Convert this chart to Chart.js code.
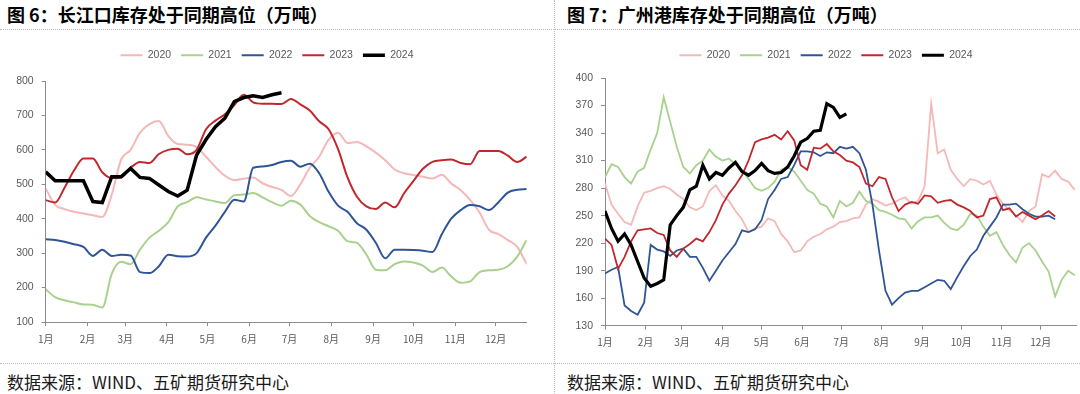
<!DOCTYPE html>
<html>
<head>
<meta charset="utf-8">
<script src="https://cdn.jsdelivr.net/npm/chart.js@4.4.1/dist/chart.umd.min.js"></script>
<style>
  html, body { margin: 0; padding: 0; background: #fff; }
  body { width: 1080px; height: 394px; position: relative; overflow: hidden;
         font-family: "Noto Sans CJK SC", sans-serif; }
  .title { position: absolute; top: 1px; font-size: 18px; font-weight: bold; color: #000; white-space: nowrap; }
  .foot { position: absolute; top: 369px; font-size: 17px; color: #1a1a1a; white-space: nowrap; }
  .hline { position: absolute; left: 0; width: 1080px; height: 0; border-top: 1px dotted #bdbdbd; }
  .vline { position: absolute; top: 0; width: 0; height: 394px; border-left: 1px dotted #bdbdbd; }
  canvas { position: absolute; }
</style>
</head>
<body>
<div class="title" style="left:7px">图 6：长江口库存处于同期高位（万吨）</div>
<div class="title" style="left:567px">图 7：广州港库存处于同期高位（万吨）</div>
<div class="hline" style="top:29px"></div>
<div class="hline" style="top:363px"></div>
<div class="vline" style="left:554px"></div>
<div class="foot" style="left:7px">数据来源：WIND、五矿期货研究中心</div>
<div class="foot" style="left:567px">数据来源：WIND、五矿期货研究中心</div>

<canvas id="left" width="540" height="320" style="left:0px;top:36px"></canvas>
<canvas id="right" width="530" height="320" style="left:550px;top:36px"></canvas>

<script>
"use strict";

// month starts (day of year) and their labels
var monthDays = [0, 31, 59, 90, 120, 151, 181, 212, 243, 273, 304, 334];
var monthLabels = ['1月', '2月', '3月', '4月', '5月', '6月', '7月', '8月', '9月', '10月', '11月', '12月'];
var years = ['2020', '2021', '2022', '2023', '2024'];

// 长江口 - weekly readings (every 7 days from 1 Jan)
var cj2020 = [488,440,428,420,415,410,405,470,572,600,650,675,684,640,617,615,608,580,550,525,512,516,520,503,492,484,466,500,548,580,630,650,620,623,610,592,570,543,532,527,522,517,528,502,483,455,418,368,355,338,318,268];
var cj2021 = [195,172,163,157,151,150,142,240,275,268,310,345,365,390,436,448,462,456,450,446,468,470,475,462,448,438,452,441,408,390,378,365,335,330,296,252,250,268,276,273,264,245,258,232,214,218,245,250,252,262,290,338];
var cj2022 = [340,338,333,326,318,292,310,292,295,293,245,242,262,295,291,290,300,345,380,420,455,450,548,552,556,565,568,551,560,532,478,438,420,387,368,330,285,310,310,309,307,303,355,400,425,440,436,425,448,476,484,486];
var cj2023 = [454,447,490,540,575,575,535,518,520,548,565,562,588,600,603,587,600,660,685,703,730,760,738,734,734,733,748,732,714,683,660,602,520,464,436,428,447,433,474,510,545,565,570,572,562,558,597,597,597,583,565,580];
var cj2024 = [536,510,510,510,510,450,447,522,522,546,520,517,498,479,466,483,585,630,667,692,740,752,757,752,760,766];

// 广州港 - readings every 5 days from 1 Jan
var gz2020 = [285,262,252,243,240,260,275,277,280,282,279,273,268,259,256,
              260,277,283,272,266,255,246,232,236,238,247,244,230,222,210,
              212,222,227,230,235,238,243,244,247,248,262,268,265,261,
              263,267,270,263,266,282,372,318,322,300,290,282,290,288,284,
              288,273,263,256,250,243,255,260,295,292,299,290,287,278];
var gz2021 = [292,306,303,292,285,298,302,322,340,379,352,325,303,296,305,
              310,322,314,310,312,306,300,290,280,277,280,287,300,303,298,
              288,278,274,263,260,248,266,260,264,276,266,263,256,254,
              251,247,246,236,244,248,248,250,242,236,234,240,252,250,238,
              228,232,218,207,199,215,220,212,200,189,162,180,190,185];
var gz2022 = [187,191,194,152,146,142,155,218,213,211,206,212,214,205,205,
              193,179,190,201,210,219,234,232,235,245,268,278,290,292,305,
              320,320,319,315,319,318,325,323,325,318,300,262,212,168,
              153,160,166,168,168,172,176,180,179,170,183,195,206,213,228,
              238,248,262,262,263,257,252,249,249,250,246];
var gz2023 = [225,218,192,205,222,234,235,236,231,229,212,205,214,219,225,
              222,232,245,262,274,283,294,310,330,333,335,338,333,342,332,
              305,300,324,323,328,320,316,310,308,303,285,282,292,290,
              270,255,262,265,263,272,271,264,266,267,262,259,255,248,250,
              268,270,256,258,249,254,250,246,250,255,249];
var gz2024 = [255,236,222,230,218,200,182,173,176,180,240,250,259,278,282,
              305,290,297,294,302,308,298,294,299,307,299,296,297,303,315,
              330,334,342,343,372,368,357,361];

var colors = ['#f4b8b7', '#a9d18e', '#2f5597', '#c0282c', '#000000'];
var tickFont = { family: '"Liberation Sans", "Noto Sans CJK SC", sans-serif', size: 10.5 };
var monthFont = { family: '"Noto Sans CJK SC", sans-serif', size: 10 };

function toPoints(values, step) {
    return values.map(function(v, i) { return { x: i * step, y: v }; });
}

function makeChart(id, series, step, opts) {
    var datasets = series.map(function(values, i) {
        var last = i === series.length - 1;
        return {
            label: years[i],
            data: toPoints(values, step),
            xAxisID: 'x',
            yAxisID: 'y',
            borderColor: colors[i],
            backgroundColor: colors[i],
            borderWidth: last ? opts.boldWidth : opts.lineWidth,
            pointRadius: 0,
            tension: (opts.smooth && !last) ? 0.4 : 0,
            cubicInterpolationMode: (opts.smooth && !last) ? 'monotone' : 'default',
            order: series.length - i
        };
    });

    return new Chart(document.getElementById(id), {
        type: 'line',
        data: { datasets: datasets },
        options: {
            responsive: false,
            animation: false,
            devicePixelRatio: 1,
            layout: { padding: opts.padding },
            plugins: {
                tooltip: { enabled: false },
                legend: {
                    position: 'top',
                    labels: {
                        usePointStyle: true,
                        pointStyle: 'line',
                        pointStyleWidth: 22,
                        padding: 10,
                        color: '#595959',
                        font: tickFont,
                        sort: function(a, b) { return a.datasetIndex - b.datasetIndex; }
                    }
                }
            },
            scales: {
                x: {
                    type: 'linear',
                    min: 0,
                    max: opts.xMax,
                    afterBuildTicks: function(s) {
                        s.ticks = monthDays.map(function(d) { return { value: d }; });
                    },
                    afterFit: function(s) { s.height = opts.xHeight; },
                    ticks: {
                        autoSkip: false,
                        maxRotation: 0,
                        padding: 7,
                        color: '#595959',
                        font: monthFont,
                        callback: function(v, i) { return monthLabels[i]; }
                    },
                    grid: { drawOnChartArea: false, drawTicks: true, tickLength: 4, color: '#8c8c8c' },
                    border: { display: true, color: '#8c8c8c', width: 1 }
                },
                y: {
                    min: opts.yMin,
                    max: opts.yMax,
                    afterFit: function(s) { s.width = opts.yWidth; },
                    ticks: { stepSize: opts.yStep, padding: 8, color: '#595959', font: tickFont },
                    grid: { drawOnChartArea: false, drawTicks: true, tickLength: 4, color: '#8c8c8c' },
                    border: { display: true, color: '#8c8c8c', width: 1 }
                },
                // empty strip between legend and plot
                gap: {
                    axis: 'x',
                    type: 'linear',
                    position: 'top',
                    display: true,
                    ticks: { display: false },
                    grid: { display: false, drawTicks: false },
                    border: { display: false },
                    afterFit: function(s) { s.height = opts.gap; }
                }
            }
        }
    });
}

makeChart('left', [cj2020, cj2021, cj2022, cj2023, cj2024], 7, {
    padding: { left: 7.3, right: 13.3, top: 4, bottom: 0 },
    yWidth: 38.4, xHeight: 34, gap: 10.5,
    xMax: 357, yMin: 100, yMax: 800, yStep: 100,
    lineWidth: 2, boldWidth: 3.5, smooth: true
});

makeChart('right', [gz2020, gz2021, gz2022, gz2023, gz2024], 5, {
    padding: { left: 26, right: 4, top: 4, bottom: 0 },
    yWidth: 29, xHeight: 30.3, gap: 7.5,
    xMax: 361, yMin: 130, yMax: 400, yStep: 30,
    lineWidth: 1.8, boldWidth: 3.2, smooth: false
});
</script>
</body>
</html>
